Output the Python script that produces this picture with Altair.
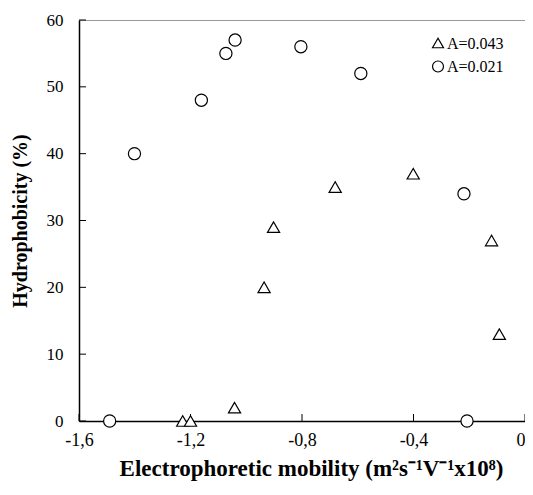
import altair as alt
import pandas as pd

# Data
series_names = ["A=0.043", "A=0.021"]
x_tri = [-1.228, -1.20, -1.042, -0.936, -0.902, -0.681, -0.401, -0.12, -0.092]
y_tri = [0, 0, 2, 20, 29, 35, 37, 27, 13]
x_circ = [-1.49, -1.401, -1.161, -1.073, -1.04, -0.804, -0.589, -0.219, -0.208]
y_circ = [0, 40, 48, 55, 57, 56, 52, 34, 0]
x_ticks = [-1.6, -1.2, -0.8, -0.4, 0.0]
y_ticks = [0, 10, 20, 30, 40, 50, 60]

W, H = 446, 401
FONT = "Liberation Serif"

df = pd.DataFrame({
    "x": x_tri + x_circ,
    "y": y_tri + y_circ,
    "series": [series_names[0]] * len(x_tri) + [series_names[1]] * len(x_circ),
})
xt = pd.DataFrame({"v": x_ticks})
yt = pd.DataFrame({"v": y_ticks})

xscale = alt.Scale(domain=[-1.6, 0], nice=False, zero=False)
yscale = alt.Scale(domain=[0, 60], nice=False)
shape_scale = alt.Scale(domain=series_names, range=["triangle-up", "circle"])

label_expr = ("datum.value == 0 ? '0' : "
              "replace(replace(format(datum.value, '.1f'), '.', ','), '\u2212', '-')")

point_style = dict(filled=False, fill="white", fillOpacity=1, stroke="black",
                   strokeWidth=1.2, opacity=1, clip=False)

points = alt.Chart(df).mark_point(size=148, **point_style).encode(
    x=alt.X("x:Q", scale=xscale,
            axis=alt.Axis(values=x_ticks, labelExpr=label_expr, ticks=False,
                          grid=False, labelPadding=10, labelFontSize=18,
                          labelAlign={"condition": {"test": "datum.value == 0", "value": "right"},
                                      "value": "center"},
                          title="Electrophoretic mobility (m²s⁻¹V⁻¹x10⁸)",
                          titleFontSize=23, titlePadding=8, titleX=232)),
    y=alt.Y("y:Q", scale=yscale,
            axis=alt.Axis(values=y_ticks, ticks=False, grid=False, labelPadding=16,
                          labelFontSize=17,
                          title="Hydrophobicity (%)", titleFontSize=20, titlePadding=16)),
    shape=alt.Shape("series:N", scale=shape_scale, legend=None),
)

# manual legend (top right, no frame)
legend_layers = []
for i, name in enumerate(series_names):
    ld = pd.DataFrame({"series": [name]})
    sym = alt.Chart(ld).mark_point(size=120, **point_style).encode(
        x=alt.value(359), y=alt.value(23 + 23.5 * i),
        shape=alt.Shape("series:N", scale=shape_scale, legend=None),
    )
    txt = alt.Chart(ld).mark_text(
        align="left", baseline="alphabetic", font=FONT, fontSize=16, color="black"
    ).encode(
        x=alt.value(368), y=alt.value(28.5 + 23.5 * i), text="series:N"
    )
    legend_layers += [sym, txt]

xtick_rules = alt.Chart(xt).mark_rule(color="black", strokeWidth=1).encode(
    x=alt.X("v:Q", scale=xscale),
    y=alt.value(H - 7),
    y2=alt.value(H),
)
ytick_rules = alt.Chart(yt).mark_rule(color="black", strokeWidth=1).encode(
    y=alt.Y("v:Q", scale=yscale),
    x=alt.value(0),
    x2=alt.value(7),
)

chart = alt.layer(xtick_rules, ytick_rules, points, *legend_layers).properties(
    width=W, height=H,
    autosize=alt.AutoSizeParams(type="none"),
    padding={"left": 71, "top": 12, "right": 0, "bottom": 62},
).configure_view(
    stroke="#999999", strokeWidth=1
).configure_axis(
    domainColor="black", domainWidth=1.5,
    labelFont=FONT, labelColor="black",
    titleFont=FONT, titleFontWeight="bold", titleColor="black",
)

chart.save("out.html", embed_options={"renderer": "svg", "actions": False})
